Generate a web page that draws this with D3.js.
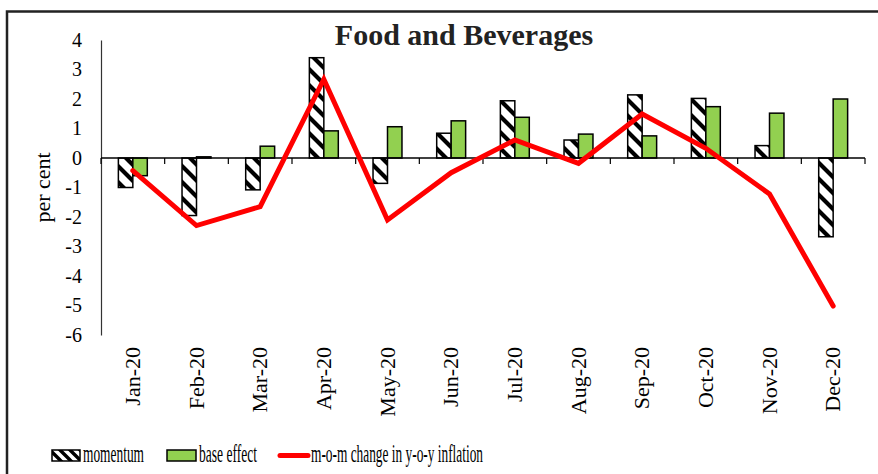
<!DOCTYPE html>
<html>
<head>
<meta charset="utf-8">
<script src="https://cdn.jsdelivr.net/npm/d3@7"></script>
<style>
  body { margin: 0; background: #fff; }
  svg { display: block; }
  text { font-family: "Liberation Serif", "Times New Roman", serif; fill: #000; }
</style>
</head>
<body>
<svg></svg>
<script>
const months = ["Jan-20", "Feb-20", "Mar-20", "Apr-20", "May-20", "Jun-20",
  "Jul-20", "Aug-20", "Sep-20", "Oct-20", "Nov-20", "Dec-20"];
const momentum = [-1.0, -1.95, -1.08, 3.4, -0.86, 0.84, 1.94, 0.61, 2.14, 2.02, 0.42, -2.67];
const baseEffect = [-0.6, 0.04, 0.4, 0.92, 1.06, 1.26, 1.38, 0.81, 0.75, 1.74, 1.52, 2.0];
const momChange = [-0.43, -2.29, -1.65, 2.67, -2.1, -0.5, 0.61, -0.18, 1.49, 0.33, -1.22, -5.02];
const yTicks = [-6, -5, -4, -3, -2, -1, 0, 1, 2, 3, 4];

const width = 878;
const height = 474;
const plotLeft = 101;
const plotRight = 865;
const plotTop = 40;
const plotBottom = 335;

const svg = d3.select("svg").attr("width", width).attr("height", height);

// patterns
const defs = svg.append("defs");
const makePattern = (id, s, w) => {
  const p = defs.append("pattern")
    .attr("id", id)
    .attr("patternUnits", "userSpaceOnUse")
    .attr("width", s)
    .attr("height", s);
  p.append("rect").attr("width", s).attr("height", s).attr("fill", "#fff");
  p.append("path")
    .attr("d", `M${-s / 2},${-s / 2}L${s * 1.5},${s * 1.5}M${-s / 2},${s / 2}L${s / 2},${s * 1.5}M${s / 2},${-s / 2}L${s * 1.5},${s / 2}`)
    .attr("stroke", "#000")
    .attr("stroke-width", w);
};
makePattern("stripes", 16, 4.2);
makePattern("stripesSmall", 10, 3.4);

// frame
svg.append("path")
  .attr("d", `M7,${height + 5}V11.5H${width + 5}`)
  .attr("fill", "none")
  .attr("stroke", "#222")
  .attr("stroke-width", 2.5);

// title
svg.append("text")
  .attr("x", 464)
  .attr("y", 45)
  .attr("text-anchor", "middle")
  .attr("font-size", 30)
  .attr("font-weight", "bold")
  .style("fill", "#222")
  .text("Food and Beverages");

const x = d3.scaleBand().domain(months).range([plotLeft, plotRight]).padding(0);
const x1 = d3.scaleBand().domain(["momentum", "base"]).range([0, x.bandwidth()])
  .paddingInner(0).paddingOuter(1.2);
const y = d3.scaleLinear().domain([-6, 4]).range([plotBottom, plotTop]);

// y axis
const yAxis = d3.axisLeft(y).tickValues(yTicks).tickSize(0).tickSizeOuter(0)
  .tickPadding(19).tickFormat((d) => String(d));
const gy = svg.append("g").attr("transform", `translate(${plotLeft},0)`).call(yAxis);
gy.select(".domain").attr("stroke", "#333").attr("stroke-width", 1.2);
gy.selectAll("text").attr("font-size", 20).attr("font-family", null);

svg.append("text")
  .attr("transform", `translate(50,${(plotTop + plotBottom) / 2}) rotate(-90)`)
  .attr("text-anchor", "middle")
  .attr("font-size", 22)
  .text("per cent");

// bars
const rows = months.map((m, i) => ({ month: m, momentum: momentum[i], base: baseEffect[i] }));
const bw = x1.bandwidth();

svg.append("g")
  .selectAll("rect")
  .data(rows)
  .join("rect")
  .attr("x", (d) => x(d.month) + x1("momentum"))
  .attr("y", (d) => y(Math.max(0, d.momentum)))
  .attr("width", bw)
  .attr("height", (d) => Math.abs(y(d.momentum) - y(0)))
  .attr("fill", "url(#stripes)")
  .attr("stroke", "#000")
  .attr("stroke-width", 1.5);

svg.append("g")
  .selectAll("rect")
  .data(rows)
  .join("rect")
  .attr("x", (d) => x(d.month) + x1("base"))
  .attr("y", (d) => y(Math.max(0, d.base)))
  .attr("width", bw)
  .attr("height", (d) => Math.abs(y(d.base) - y(0)))
  .attr("fill", "#92D050")
  .attr("stroke", "#000")
  .attr("stroke-width", 1.5);

// x axis line at zero with ticks on band edges
const edges = months.map((m) => x(m)).concat([plotRight]);
svg.append("line")
  .attr("x1", plotLeft).attr("x2", plotRight)
  .attr("y1", y(0)).attr("y2", y(0))
  .attr("stroke", "#000").attr("stroke-width", 1.5);
svg.append("g")
  .selectAll("line")
  .data(edges)
  .join("line")
  .attr("x1", (d) => d).attr("x2", (d) => d)
  .attr("y1", y(0)).attr("y2", y(0) + 6)
  .attr("stroke", "#000").attr("stroke-width", 1.2);

// month labels
const xAxis = d3.axisBottom(x).tickSize(0).tickSizeOuter(0);
const gx = svg.append("g").attr("transform", `translate(0,${plotBottom + 5})`).call(xAxis);
gx.select(".domain").remove();
gx.selectAll("text")
  .attr("font-size", 22)
  .attr("font-family", null)
  .attr("transform", "rotate(-90)")
  .attr("text-anchor", "end")
  .attr("x", -7)
  .attr("y", 0)
  .attr("dy", "0.33em");

// m-o-m line
const line = d3.line()
  .x((d, i) => x(months[i]) + x.bandwidth() / 2)
  .y((d) => y(d));
svg.append("path")
  .datum(momChange)
  .attr("d", line)
  .attr("fill", "none")
  .attr("stroke", "#FF0000")
  .attr("stroke-width", 5)
  .attr("stroke-linecap", "round")
  .attr("stroke-linejoin", "miter");

// legend
const legY = 455.5;
const lg = svg.append("g");
lg.append("rect").attr("x", 52).attr("y", legY - 5.5).attr("width", 28).attr("height", 11)
  .attr("fill", "url(#stripesSmall)").attr("stroke", "#000").attr("stroke-width", 1.5);
lg.append("rect").attr("x", 167).attr("y", legY - 5.5).attr("width", 29).attr("height", 11)
  .attr("fill", "#92D050").attr("stroke", "#000").attr("stroke-width", 1.5);
lg.append("line").attr("x1", 280).attr("x2", 308).attr("y1", legY).attr("y2", legY)
  .attr("stroke", "#FF0000").attr("stroke-width", 5).attr("stroke-linecap", "round");

const legItems = [
  { label: "momentum", x: 83, len: 61 },
  { label: "base effect", x: 199, len: 58 },
  { label: "m-o-m change in y-o-y inflation", x: 311, len: 172 },
];
lg.selectAll("text.leg")
  .data(legItems)
  .join("text")
  .attr("class", "leg")
  .attr("x", (d) => d.x)
  .attr("y", 462)
  .attr("font-size", 25)
  .attr("textLength", (d) => d.len)
  .attr("lengthAdjust", "spacingAndGlyphs")
  .text((d) => d.label);
</script>
</body>
</html>
